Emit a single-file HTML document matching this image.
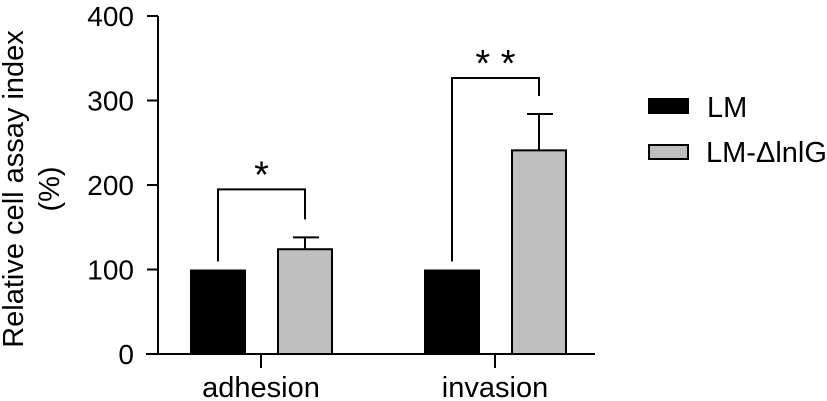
<!DOCTYPE html>
<html><head><meta charset="utf-8"><style>
body{margin:0;background:#fff;}
svg{display:block;font-family:"Liberation Sans",Arial,sans-serif;}
</style></head><body>
<svg id="chart" width="827" height="401" viewBox="0 0 827 401">
<g id="axes"></g>
<g id="bars"></g>
<g id="sig"></g>
<text transform="translate(23,189) rotate(-90)" text-anchor="middle" font-size="29">Relative cell assay index</text>
<text transform="translate(59,189) rotate(-90)" text-anchor="middle" font-size="29">(%)</text>
<g>
<rect x="648" y="98" width="41" height="16" fill="#000"/>
<text x="707" y="117" font-size="29">LM</text>
<rect x="649" y="145" width="39" height="14" fill="#bfbfbf" stroke="#000" stroke-width="2"/>
<text x="706" y="162" font-size="29">LM-ΔlnlG</text>
</g>
</svg>
<script>
const categories=["adhesion","invasion"];
const lmValues=[100,100];
const mutValues=[124,241];
const mutErrors=[14,43];
const yTicks=[0,100,200,300,400];
const sigLabels=["*","* *"];
const NS="http://www.w3.org/2000/svg";
const y=v=>354-v*(338/400);
const catX=[261,495];
function mk(tag,attrs,parent,txt){const e=document.createElementNS(NS,tag);for(const k in attrs)e.setAttribute(k,attrs[k]);if(txt!==undefined)e.textContent=txt;parent.appendChild(e);return e;}
const ax=document.getElementById('axes'),bars=document.getElementById('bars'),sig=document.getElementById('sig');
let l=mk('line',{x1:158,y1:y(400),x2:158,y2:355,stroke:'#000','stroke-width':2},ax);


l=mk('line',{x1:146,y1:354,x2:595,y2:354,stroke:'#000','stroke-width':2},ax);


yTicks.forEach(t=>{
 const tk=mk('line',{x1:147,y1:y(t),x2:158,y2:y(t),stroke:'#000','stroke-width':2},ax);
 
 
 const tl=mk('text',{x:134,y:y(t)+10,'text-anchor':'end','font-size':28},ax,String(t));
 
 
});
categories.forEach((c,i)=>{
 const cx=catX[i];
 const tk=mk('line',{x1:cx,y1:354,x2:cx,y2:368,stroke:'#000','stroke-width':2},ax);
 
 
 const tl=mk('text',{x:cx,y:397,'text-anchor':'middle','font-size':29},ax,c);
 
 
 const bx=cx-71, gx=cx+16, w=56;
 const b=mk('rect',{x:bx,y:y(lmValues[i]),width:w,height:354-y(lmValues[i]),fill:'#000'},bars);
 
 
 const g=mk('rect',{x:gx+1,y:y(mutValues[i]),width:w-2,height:354-y(mutValues[i]),fill:'#bfbfbf',stroke:'#000','stroke-width':2},bars);
 
 
 const gc=gx+w/2, top=y(mutValues[i]+mutErrors[i]);
 const e=mk('path',{d:`M${gc},${y(mutValues[i])}V${top}M${gc-12},${top}H${gc+14}`,stroke:'#000','stroke-width':2,fill:'none'},bars);
 
 
 const lx=bx+w/2, rx=gc;
 const by=top-(i==0?48:36);
 const br=mk('path',{d:`M${lx},${y(lmValues[i])-8}V${by}H${rx}V${top-18}`,stroke:'#000','stroke-width':2,fill:'none'},sig);
 
 
 const st=mk('text',{x:(lx+rx)/2,y:by-2,'text-anchor':'middle','font-size':38},sig,sigLabels[i]);
 
 
});
</script>
</body></html>
